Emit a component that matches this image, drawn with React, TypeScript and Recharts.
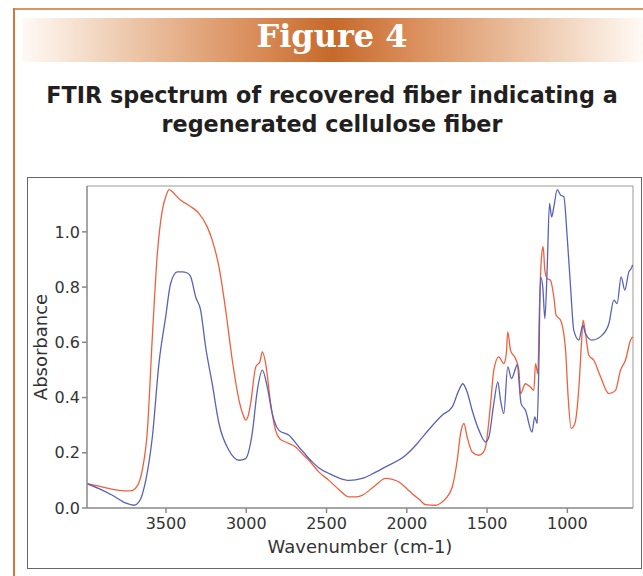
import React from 'react';
import {
  LineChart,
  Line,
  XAxis,
  YAxis,
  ReferenceLine,
} from 'recharts';

// wavenumber (cm-1) / absorbance pairs
const redWave = [
  3992, 3917, 3850, 3792, 3720, 3679, 3648, 3616, 3585, 3554, 3523, 3500, 3481,
  3460, 3440, 3410, 3377, 3330, 3295, 3243, 3212, 3170, 3128, 3087, 3045, 3015,
  3004, 2990, 2973, 2941, 2915, 2900, 2879, 2848, 2817, 2790, 2755, 2692, 2650,
  2610, 2547, 2485, 2420, 2360, 2320, 2278, 2200, 2132, 2090, 2049, 2000, 1966,
  1920, 1883, 1821, 1780, 1758, 1717, 1686, 1665, 1644, 1624, 1593, 1551, 1525,
  1509, 1478, 1458, 1427, 1396, 1380, 1371, 1354, 1323, 1302, 1292, 1261, 1230,
  1209, 1198, 1184, 1173, 1161, 1151, 1140, 1126, 1105, 1084, 1070, 1042, 1011,
  995, 976, 953, 928, 912, 902, 887, 866, 835, 793, 741, 700, 669, 638, 606, 593,
];
const redAbs = [
  0.088, 0.079, 0.07, 0.064, 0.062, 0.08, 0.137, 0.28, 0.62, 0.92, 1.078, 1.13,
  1.153, 1.145, 1.133, 1.115, 1.103, 1.085, 1.067, 1.018, 0.97, 0.873, 0.716,
  0.535, 0.39, 0.33, 0.318, 0.33, 0.378, 0.511, 0.53, 0.565, 0.523, 0.378, 0.28,
  0.25, 0.239, 0.221, 0.195, 0.173, 0.13, 0.1, 0.065, 0.04, 0.04, 0.046, 0.08,
  0.107, 0.104, 0.094, 0.07, 0.052, 0.03, 0.012, 0.01, 0.022, 0.034, 0.076,
  0.173, 0.27, 0.306, 0.257, 0.203, 0.191, 0.2, 0.221, 0.378, 0.499, 0.547,
  0.523, 0.56, 0.638, 0.571, 0.541, 0.499, 0.414, 0.45, 0.438, 0.426, 0.523,
  0.487, 0.74, 0.909, 0.946, 0.861, 0.831, 0.825, 0.764, 0.698, 0.68, 0.571,
  0.402, 0.288, 0.306, 0.438, 0.596, 0.68, 0.632, 0.553, 0.535, 0.475, 0.414,
  0.426, 0.499, 0.535, 0.608, 0.62,
];

const blueWave = [
  3992, 3917, 3834, 3751, 3699, 3668, 3626, 3585, 3544, 3502, 3471, 3430, 3400,
  3367, 3346, 3315, 3284, 3253, 3212, 3170, 3108, 3045, 3004, 2963, 2931, 2900,
  2869, 2838, 2796, 2734, 2672, 2589, 2547, 2485, 2420, 2360, 2278, 2200, 2132,
  2007, 1940, 1883, 1780, 1717, 1676, 1651, 1624, 1593, 1551, 1509, 1489, 1458,
  1433, 1416, 1396, 1371, 1348, 1323, 1313, 1288, 1261, 1220, 1203, 1188, 1178,
  1167, 1153, 1140, 1126, 1111, 1098, 1084, 1063, 1042, 1022, 1001, 980, 960,
  928, 904, 887, 846, 783, 741, 710, 690, 665, 642, 617, 602, 593,
];
const blueAbs = [
  0.088, 0.07, 0.046, 0.018, 0.01, 0.022, 0.1, 0.257, 0.523, 0.692, 0.813,
  0.855, 0.855, 0.851, 0.837, 0.764, 0.716, 0.583, 0.45, 0.306, 0.209, 0.173,
  0.179, 0.27, 0.426, 0.499, 0.438, 0.342, 0.281, 0.263, 0.221, 0.167, 0.145,
  0.125, 0.108, 0.1, 0.107, 0.128, 0.149, 0.191, 0.23, 0.27, 0.336, 0.366,
  0.426, 0.45, 0.42, 0.354, 0.282, 0.239, 0.257, 0.378, 0.457, 0.39, 0.342,
  0.511, 0.469, 0.505, 0.52, 0.378, 0.354, 0.275, 0.33, 0.306, 0.499, 0.837,
  0.801, 0.686, 0.861, 1.103, 1.054, 1.09, 1.153, 1.133, 1.127, 0.982, 0.801,
  0.644, 0.608, 0.662, 0.632, 0.608, 0.626, 0.668, 0.753, 0.74, 0.837, 0.789,
  0.855, 0.867, 0.88,
];

const xTicks = [3500, 3000, 2500, 2000, 1500, 1000];
const yTicks = [0, 0.2, 0.4, 0.6, 0.8, 1.0];

const X_MIN = 591;
const X_MAX = 3992;
const Y_MAX = 1.166;

const redData = redWave.map((w, i) => ({ w, a: redAbs[i] }));
const blueData = blueWave.map((w, i) => ({ w, a: blueAbs[i] }));

const tickStyle = { fontFamily: 'DejaVu Sans', fontSize: 16, fill: '#333' };
const labelStyle = { fontFamily: 'DejaVu Sans', fontSize: 18, fill: '#333' };

export default function App() {
  return (
    <div
      style={{
        position: 'absolute',
        left: 0,
        top: 0,
        width: 643,
        height: 576,
        background: '#fff',
        overflow: 'hidden',
      }}
    >
      {/* orange page frame */}
      <div style={{ position: 'absolute', left: 13, top: 8, width: 630, height: 2, background: '#dc9466' }} />
      <div style={{ position: 'absolute', left: 13, top: 8, width: 1.5, height: 568, background: '#cf7840' }} />

      {/* banner */}
      <div
        style={{
          position: 'absolute',
          left: 22,
          top: 18,
          width: 621,
          height: 44,
          background:
            'linear-gradient(to right, #fffaf5 0%, #eecbb0 16%, #d98b57 38%, #c6692b 50%, #d98b57 62%, #eecbb0 84%, #fffaf5 100%)',
        }}
      />
      <div
        style={{
          position: 'absolute',
          left: 0,
          top: 16,
          width: 664,
          textAlign: 'center',
          fontFamily: 'DejaVu Serif',
          fontWeight: 'bold',
          fontSize: 32,
          lineHeight: '40px',
          color: '#fff',
        }}
      >
        Figure 4
      </div>

      {/* title */}
      <div
        style={{
          position: 'absolute',
          left: 0,
          top: 81,
          width: 664,
          textAlign: 'center',
          fontFamily: 'DejaVu Sans',
          fontWeight: 'bold',
          fontSize: 22.3,
          lineHeight: '28.5px',
          color: '#231f20',
        }}
      >
        FTIR spectrum of recovered fiber indicating a
        <br />
        regenerated cellulose fiber
      </div>

      {/* chart frame */}
      <div
        style={{
          position: 'absolute',
          left: 27,
          top: 177,
          width: 615,
          height: 392,
          border: '1px solid #666',
          boxSizing: 'border-box',
        }}
      />

      <div style={{ position: 'absolute', left: 28, top: 177 }}>
        <LineChart
          width={613}
          height={391}
          margin={{ top: 9, right: 8, left: 0, bottom: 0 }}
        >
          <XAxis
            dataKey="w"
            type="number"
            domain={[X_MIN, X_MAX]}
            reversed
            ticks={xTicks}
            allowDataOverflow
            height={60}
            tickSize={5}
            tickMargin={5}
            tick={tickStyle}
            stroke="#888"
            strokeWidth={1.5}
            label={{
              value: 'Wavenumber (cm-1)',
              position: 'insideBottom',
              offset: 15,
              style: labelStyle,
            }}
          />
          <YAxis
            dataKey="a"
            type="number"
            domain={[0, Y_MAX]}
            ticks={yTicks}
            allowDataOverflow
            width={59}
            tickSize={5}
            tickMargin={2}
            tick={tickStyle}
            tickFormatter={(v: number) => v.toFixed(1)}
            stroke="#888"
            strokeWidth={1.5}
            label={{
              value: 'Absorbance',
              angle: -90,
              position: 'insideLeft',
              offset: 18,
              dx: -5,
              style: { ...labelStyle, textAnchor: 'middle' },
            }}
          />
          <ReferenceLine y={Y_MAX} stroke="#999" strokeWidth={1} />
          <ReferenceLine x={X_MIN} stroke="#999" strokeWidth={1} />
          <Line
            data={redData}
            dataKey="a"
            type="monotone"
            stroke="#f0603e"
            strokeWidth={1.3}
            dot={false}
            isAnimationActive={false}
          />
          <Line
            data={blueData}
            dataKey="a"
            type="monotone"
            stroke="#5a62b8"
            strokeWidth={1.3}
            dot={false}
            isAnimationActive={false}
          />
        </LineChart>
      </div>
    </div>
  );
}
